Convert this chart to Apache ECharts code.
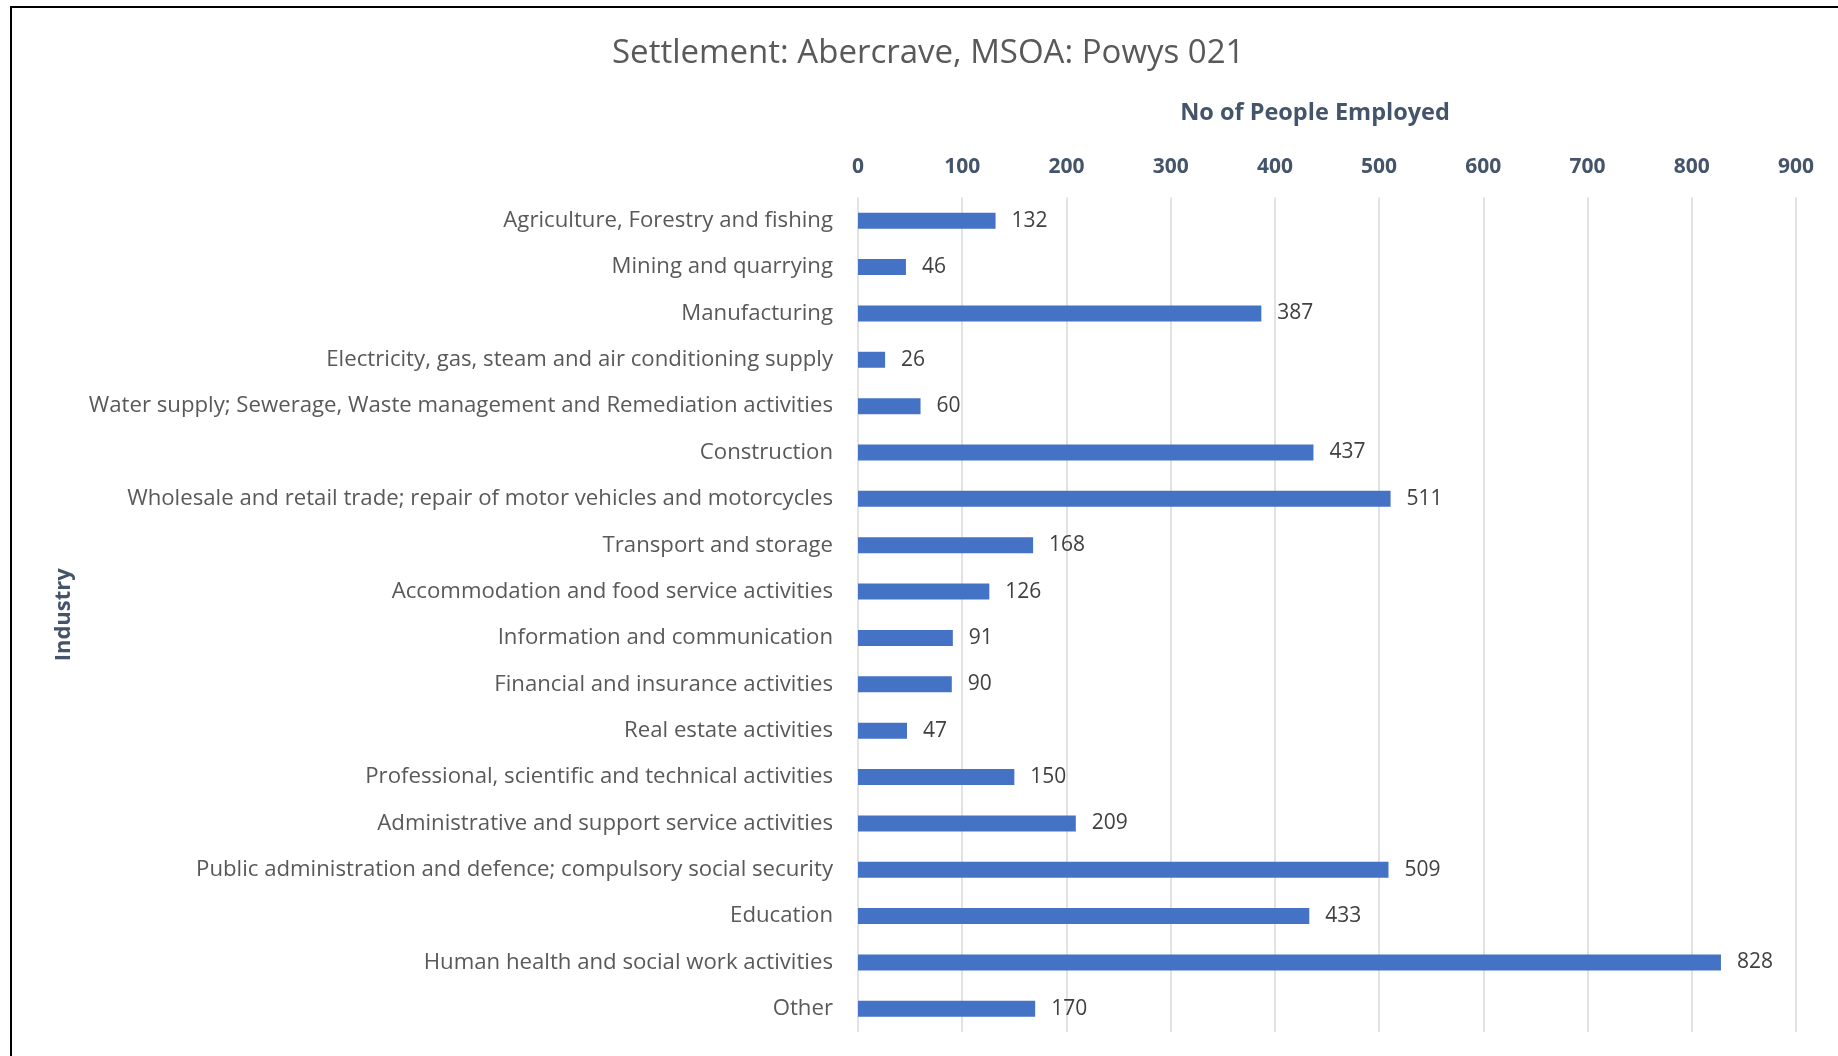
<!DOCTYPE html>
<html>
<head>
<meta charset="utf-8">
<title>Settlement: Abercrave, MSOA: Powys 021</title>
<script src="https://cdn.jsdelivr.net/npm/echarts@6/dist/echarts.min.js"></script>
<style>
  html, body { margin: 0; padding: 0; background: #ffffff; }
  #chart { width: 1838px; height: 1056px; }
</style>
</head>
<body>
<div id="chart"></div>
<script>
// Industries, top to bottom
const industries = [
  'Agriculture, Forestry and fishing',
  'Mining and quarrying',
  'Manufacturing',
  'Electricity, gas, steam and air conditioning supply',
  'Water supply; Sewerage, Waste management and Remediation activities',
  'Construction',
  'Wholesale and retail trade; repair of motor vehicles and motorcycles',
  'Transport and storage',
  'Accommodation and food service activities',
  'Information and communication',
  'Financial and insurance activities',
  'Real estate activities',
  'Professional, scientific and technical activities',
  'Administrative and support service activities',
  'Public administration and defence; compulsory social security',
  'Education',
  'Human health and social work activities',
  'Other'
];

// Number of people employed in each industry
const employed = [132, 46, 387, 26, 60, 437, 511, 168, 126, 91, 90, 47, 150, 209, 509, 433, 828, 170];

// Value axis range
const axisMin = 0;
const axisMax = 900;
const axisStep = 100;

const FONT = '"Open Sans", "Noto Sans", sans-serif';
const AXIS_BLUE = '#44546A';

const chart = echarts.init(document.getElementById('chart'), null, { renderer: 'canvas' });

chart.setOption({
  backgroundColor: '#ffffff',
  animation: false,
  title: {
    text: 'Settlement: Abercrave, MSOA: Powys 021',
    left: 607,
    top: 32,
    textStyle: { fontFamily: FONT, fontSize: 33, fontWeight: 'normal', color: '#595959' }
  },
  grid: { left: 858, right: 42, top: 197.5, bottom: 24, containLabel: false },
  xAxis: {
    type: 'value',
    position: 'top',
    min: axisMin,
    max: axisMax,
    interval: axisStep,
    name: 'No of People Employed',
    nameLocation: 'middle',
    nameGap: 72,
    nameTextStyle: {
      fontFamily: FONT, fontSize: 23.5, fontWeight: 'bold', color: AXIS_BLUE,
      padding: [0, 24, 0, 0]
    },
    axisLine: { show: false },
    axisTick: { show: false },
    axisLabel: { fontFamily: FONT, fontSize: 21, fontWeight: 'bold', color: AXIS_BLUE, margin: 20 },
    splitLine: { show: true, lineStyle: { color: '#D9D9D9', width: 1.5 } }
  },
  yAxis: {
    type: 'category',
    data: industries,
    inverse: true,
    name: 'Industry',
    nameLocation: 'middle',
    nameRotate: 90,
    nameGap: 783,
    nameTextStyle: { fontFamily: FONT, fontSize: 22, fontWeight: 'bold', color: AXIS_BLUE },
    axisLine: { show: false },
    axisTick: { show: false },
    axisLabel: { fontFamily: FONT, fontSize: 22.2, color: '#595959', margin: 25 },
    splitLine: { show: false }
  },
  series: [{
    type: 'bar',
    data: employed,
    barWidth: 16,
    itemStyle: { color: '#4472C4' },
    label: {
      show: true,
      position: 'right',
      distance: 16,
      fontFamily: FONT,
      fontSize: 21,
      color: '#404040'
    }
  }],
  graphic: [{
    type: 'polyline',
    shape: { points: [[11, 1056], [11, 7], [1838, 7]] },
    style: { stroke: '#000000', lineWidth: 2, fill: null },
    silent: true
  }]
});
</script>
</body>
</html>
